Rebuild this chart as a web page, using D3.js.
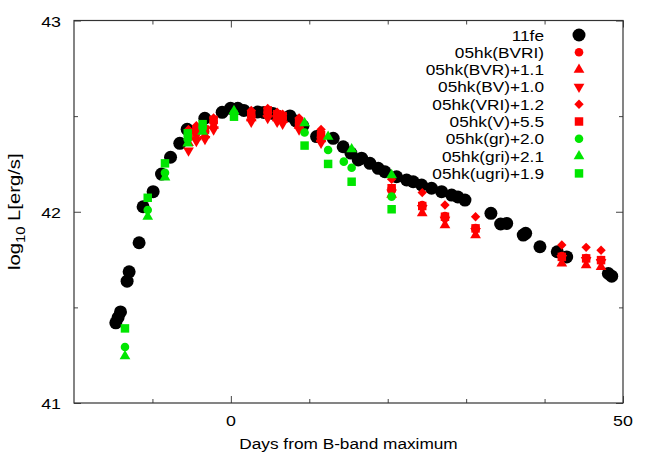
<!DOCTYPE html>
<html>
<head>
<meta charset="utf-8">
<style>
body { margin: 0; background: #fff; }
text { font-family: "Liberation Sans", Arial, sans-serif; fill: #000; }
</style>
<script src="https://d3js.org/d3.v7.min.js"></script>
</head>
<body>
<div id="chart"></div>
<script>

// ---- data ----
var fe11Days = [-14.67, -14.38, -14.07, -13.23, -12.97, -11.70, -11.19, -9.91, -8.84, -7.69, -6.51, -5.57,
  -3.32, -1.11, -0.04, 0.89, 1.66, 3.44, 4.2, 5.36, 7.53, 8.29, 9.18, 10.93, 13.05, 14.32, 15.3, 16.24,
  16.67, 17.73, 18.79, 19.64, 21.13, 22.41, 23.25, 24.32, 25.59, 26.87, 28.15, 28.95, 29.85, 33.16,
  34.40, 35.17, 37.28, 37.59, 39.41, 41.62, 42.82, 48.13, 48.56];
var fe11L = [41.419, 41.447, 41.476, 41.637, 41.686, 41.838, 42.026, 42.105, 42.197, 42.285, 42.358, 42.431,
  42.489, 42.520, 42.541, 42.541, 42.530, 42.522, 42.519, 42.514, 42.501, 42.475, 42.449, 42.393, 42.384, 42.340,
  42.307, 42.271, 42.280, 42.253, 42.227, 42.209, 42.183, 42.166, 42.157, 42.140, 42.123, 42.105, 42.087,
  42.077, 42.061, 41.992, 41.936, 41.939, 41.878, 41.887, 41.817, 41.791, 41.764, 41.677, 41.663];

var hkDays = [-5.4, -4.4, -3.3, -2.2, 2.6, 4.7, 5.9, 6.6, 8.7, 11.5, 20.5, 24.4, 27.3, 31.2, 42.2, 45.3, 47.2];
var hkBVRI = [42.39, 42.41, 42.42, 42.47, 42.50, 42.52, 42.50, 42.49, 42.46, 42.39, 42.12, 42.035, 41.977, 41.915, 41.768, 41.758, 41.747];
var hkBVR  = [42.36, 42.39, 42.40, 42.45, 42.49, 42.51, 42.49, 42.48, 42.45, 42.38, 42.09, 41.993, 41.930, 41.878, 41.730, 41.721, 41.712];
var hkBV   = [42.32, 42.37, 42.38, 42.43, 42.47, 42.49, 42.47, 42.46, 42.43, 42.36, 42.10, 42.019, 41.957, 41.899, 41.758, 41.747, 41.737];
var hkVRI  = [42.43, 42.45, 42.44, 42.49, 42.53, 42.54, 42.52, 42.51, 42.49, 42.43, 42.17, 42.100, 42.035, 41.974, 41.826, 41.814, 41.799];
var hkV    = [42.41, 42.43, 42.43, 42.48, 42.51, 42.53, 42.51, 42.50, 42.47, 42.40, 42.123, 42.030, 41.974, 41.913, 41.764, 41.756, 41.747];

var grDays = [-13.5, -10.6, -8.4, -5.5, -3.6, 0.4, 9.4, 12.4, 14.4, 15.4, 20.5];
var grL    = [41.293, 42.009, 42.204, 42.379, 42.438, 42.515, 42.414, 42.323, 42.262, 42.230, 42.079];
var griDays = [-13.5, -10.6, -8.4, -5.5, -3.6, 0.4, 9.4, 12.4, 15.4, 20.5];
var griL    = [41.245, 41.974, 42.180, 42.358, 42.419, 42.527, 42.463, 42.393, 42.327, 42.192];
var ugriDays = [-13.5, -10.6, -8.4, -5.5, -3.6, 0.4, 9.4, 12.4, 15.4, 20.5];
var ugriL    = [41.390, 42.073, 42.253, 42.410, 42.458, 42.497, 42.346, 42.250, 42.157, 42.013];

var xMajor = [0, 50], xMinor = [-10, 10, 20, 30, 40];
var yMajor = [41, 42, 43], yMinor = [41.5, 42.5];

var legendNames = ["11fe", "05hk(BVRI)", "05hk(BVR)+1.1", "05hk(BV)+1.0", "05hk(VRI)+1.2",
  "05hk(V)+5.5", "05hk(gr)+2.0", "05hk(gri)+2.1", "05hk(ugri)+1.9"];

// series table: marker, colour, x, y
var series = [
  {mark: "bigcircle", color: "#000000", xs: fe11Days, ys: fe11L},
  {mark: "circle", color: "#ff0000", xs: hkDays, ys: hkBVRI},
  {mark: "triangle", color: "#ff0000", xs: hkDays, ys: hkBVR},
  {mark: "down", color: "#ff0000", xs: hkDays, ys: hkBV},
  {mark: "diamond", color: "#ff0000", xs: hkDays, ys: hkVRI},
  {mark: "square", color: "#ff0000", xs: hkDays, ys: hkV},
  {mark: "circle", color: "#00e600", xs: grDays, ys: grL},
  {mark: "triangle", color: "#00e600", xs: griDays, ys: griL},
  {mark: "square", color: "#00e600", xs: ugriDays, ys: ugriL}
];

var width = 654, height = 458;
var margin = {left: 74, right: 31, top: 20.5, bottom: 55};
var pw = width - margin.left - margin.right,
    ph = height - margin.top - margin.bottom;

var svg = d3.select("#chart").append("svg")
  .attr("width", width).attr("height", height);

var x = d3.scaleLinear().domain([-20, 50]).range([0, pw]);
var y = d3.scaleLinear().domain([41, 43]).range([ph, 0]);

var g = svg.append("g").attr("transform", "translate(" + margin.left + "," + margin.top + ")");

// ticks inside on all four sides
function ticks(axis, vals, len, transform) {
  var a = g.append("g").attr("transform", transform)
    .call(axis.tickValues(vals).tickSize(-len).tickFormat(""));
  a.select(".domain").remove();
  a.selectAll("line").attr("stroke", "#444");
}
ticks(d3.axisBottom(x), xMajor, 7, "translate(0," + ph + ")");
ticks(d3.axisBottom(x), xMinor, 4, "translate(0," + ph + ")");
ticks(d3.axisTop(x), xMajor, 7, "");
ticks(d3.axisTop(x), xMinor, 4, "");
ticks(d3.axisLeft(y), yMajor, 7, "");
ticks(d3.axisLeft(y), yMinor, 4, "");
ticks(d3.axisRight(y), yMajor, 7, "translate(" + pw + ",0)");
ticks(d3.axisRight(y), yMinor, 4, "translate(" + pw + ",0)");

g.append("rect").attr("width", pw).attr("height", ph)
  .attr("fill", "none").attr("stroke", "#333").attr("stroke-width", 1.2);

var sx = 1.15; // text in the picture is a bit wider than the font
function label(parent, tx, ty, str, anchor, size) {
  return parent.append("text")
    .attr("transform", "translate(" + tx + "," + ty + ") scale(" + sx + ",1)")
    .attr("text-anchor", anchor).style("font-size", size + "px").text(str);
}

xMajor.forEach(function(v) { label(g, x(v), ph + 23, String(v), "middle", 15.5); });
yMajor.forEach(function(v) { label(g, -13, y(v) + 6, String(v), "end", 15.5); });

label(svg, margin.left + pw / 2, 449, "Days from B-band maximum", "middle", 15);

var yl = svg.append("text")
  .attr("transform", "translate(20," + (margin.top + ph / 2) + ") rotate(-90) scale(1.35,1.15)")
  .attr("text-anchor", "middle").style("font-size", "15px");
yl.append("tspan").text("log");
yl.append("tspan").attr("dy", 4).style("font-size", "11px").text("10");
yl.append("tspan").attr("dy", -4).text(" L[erg/s]");

function drawMark(sel, mark, color) {
  if (mark === "bigcircle") {
    sel.append("circle").attr("r", 6.5).attr("fill", color);
  } else if (mark === "circle") {
    sel.append("circle").attr("r", 4.3).attr("fill", color);
  } else {
    var type = mark === "square" || mark === "diamond" ? d3.symbolSquare : d3.symbolTriangle;
    var size = mark === "square" ? 72 : mark === "diamond" ? 44 : 50;
    var rot = mark === "diamond" ? 45 : mark === "down" ? 180 : 0;
    sel.append("path").attr("d", d3.symbol().type(type).size(size)())
      .attr("transform", "rotate(" + rot + ")").attr("fill", color);
  }
}

series.forEach(function(s) {
  var pts = s.xs.map(function(d, i) { return [d, s.ys[i]]; });
  g.append("g").selectAll("g").data(pts).enter().append("g")
    .attr("transform", function(d) { return "translate(" + x(d[0]) + "," + y(d[1]) + ")"; })
    .each(function() { drawMark(d3.select(this), s.mark, s.color); });
});

// legend
var leg = svg.append("g");
legendNames.forEach(function(n, i) {
  var ly = 35 + i * 17.3;
  label(leg, 544, ly + 5.5, n, "end", 15);
  drawMark(leg.append("g").attr("transform", "translate(579," + ly + ")"), series[i].mark, series[i].color);
});

</script>
</body>
</html>
